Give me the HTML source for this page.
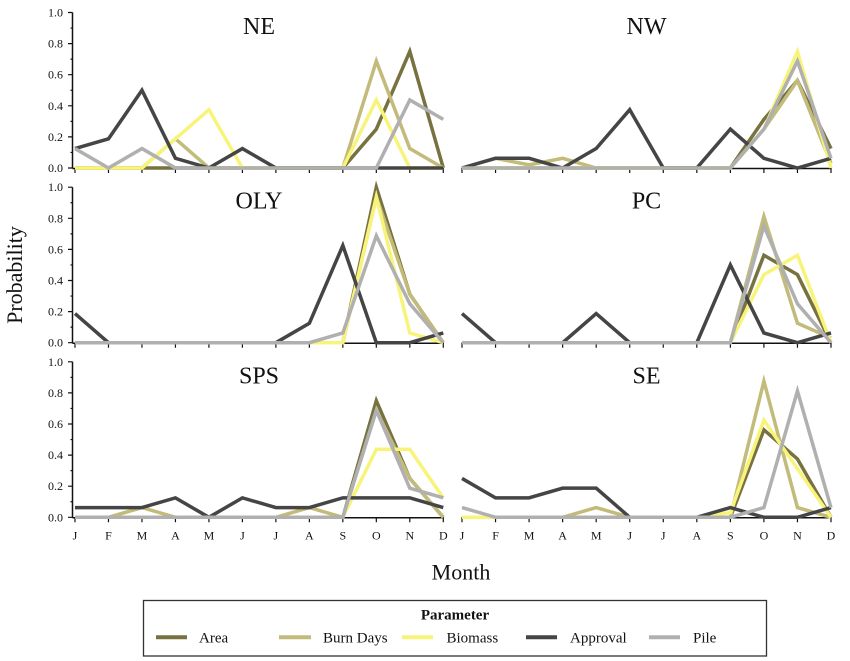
<!DOCTYPE html>
<html>
<head>
<meta charset="utf-8">
<style>
  html,body{margin:0;padding:0;background:#fff;}
  svg{display:block;}
  text{font-family:"Liberation Serif","DejaVu Serif",serif;fill:#111;}
  .tk{font-size:12px;}
  .ttl{font-size:24px;}
  .ax{stroke:#111;stroke-width:1.5;fill:none;}
  .d{fill:none;stroke-width:3.5;vector-effect:non-scaling-stroke;stroke-linejoin:miter;stroke-miterlimit:10;}
  .a{stroke:#77723f;}
  .b{stroke:#c2bb7a;}
  .m{stroke:#f8f47a;}
  .p{stroke:#454545;}
  .l{stroke:#b0b0b0;}
</style>
</head>
<body>
<svg width="850" height="661" viewBox="0 0 850 661" xmlns="http://www.w3.org/2000/svg">
  <rect width="850" height="661" fill="#fff"/>

  <!-- ============ AXES ============ -->
  <!-- Left panels y axes -->
  <g class="ax">
    <line x1="72.5" y1="12.5" x2="72.5" y2="168.5"/>
    <line x1="72.5" y1="187.2" x2="72.5" y2="343.2"/>
    <line x1="72.5" y1="361.8" x2="72.5" y2="517.8"/>
    <!-- x axes -->
    <line x1="72.5" y1="168.5" x2="443.8" y2="168.5"/>
    <line x1="72.5" y1="343.2" x2="443.8" y2="343.2"/>
    <line x1="72.5" y1="517.8" x2="443.8" y2="517.8"/>
    <line x1="461.5" y1="168.5" x2="831.5" y2="168.5"/>
    <line x1="461.5" y1="343.2" x2="831.5" y2="343.2"/>
    <line x1="461.5" y1="517.8" x2="831.5" y2="517.8"/>
  </g>

  <!-- y ticks left panels: major at 0,.2..1 ; minor at .1,.3.. -->
  <g stroke="#111" stroke-width="1.2">
    <!-- row1 zero 168 -->
    <path d="M68 168H72.5M68 136.9H72.5M68 105.8H72.5M68 74.7H72.5M68 43.6H72.5M68 12.5H72.5
             M70.5 152.45H72.5M70.5 121.35H72.5M70.5 90.25H72.5M70.5 59.15H72.5M70.5 28.05H72.5"/>
    <!-- row2 zero 342.7 -->
    <path d="M68 342.7H72.5M68 311.6H72.5M68 280.5H72.5M68 249.4H72.5M68 218.3H72.5M68 187.2H72.5
             M70.5 327.15H72.5M70.5 296.05H72.5M70.5 264.95H72.5M70.5 233.85H72.5M70.5 202.75H72.5"/>
    <!-- row3 zero 517.3 -->
    <path d="M68 517.3H72.5M68 486.2H72.5M68 455.1H72.5M68 424H72.5M68 392.9H72.5M68 361.8H72.5
             M70.5 501.75H72.5M70.5 470.65H72.5M70.5 439.55H72.5M70.5 408.45H72.5M70.5 377.35H72.5"/>
  </g>

  <!-- x ticks -->
  <g stroke="#111" stroke-width="1.2">
    <path d="M75 168v5M108.48 168v5M141.96 168v5M175.44 168v5M208.92 168v5M242.4 168v5M275.88 168v5M309.36 168v5M342.84 168v5M376.32 168v5M409.8 168v5M443.28 168v5"/>
    <path d="M75 342.7v5M108.48 342.7v5M141.96 342.7v5M175.44 342.7v5M208.92 342.7v5M242.4 342.7v5M275.88 342.7v5M309.36 342.7v5M342.84 342.7v5M376.32 342.7v5M409.8 342.7v5M443.28 342.7v5"/>
    <path d="M75 517.3v5M108.48 517.3v5M141.96 517.3v5M175.44 517.3v5M208.92 517.3v5M242.4 517.3v5M275.88 517.3v5M309.36 517.3v5M342.84 517.3v5M376.32 517.3v5M409.8 517.3v5M443.28 517.3v5"/>
    <path d="M462 168v5M495.55 168v5M529.09 168v5M562.64 168v5M596.18 168v5M629.73 168v5M663.27 168v5M696.82 168v5M730.36 168v5M763.91 168v5M797.45 168v5M831 168v5"/>
    <path d="M462 342.7v5M495.55 342.7v5M529.09 342.7v5M562.64 342.7v5M596.18 342.7v5M629.73 342.7v5M663.27 342.7v5M696.82 342.7v5M730.36 342.7v5M763.91 342.7v5M797.45 342.7v5M831 342.7v5"/>
    <path d="M462 517.3v5M495.55 517.3v5M529.09 517.3v5M562.64 517.3v5M596.18 517.3v5M629.73 517.3v5M663.27 517.3v5M696.82 517.3v5M730.36 517.3v5M763.91 517.3v5M797.45 517.3v5M831 517.3v5"/>
  </g>

  <!-- y tick labels -->
  <g class="tk" text-anchor="end">
    <text x="63" y="172">0.0</text><text x="63" y="140.9">0.2</text><text x="63" y="109.8">0.4</text><text x="63" y="78.7">0.6</text><text x="63" y="47.6">0.8</text><text x="63" y="16.5">1.0</text>
    <text x="63" y="346.7">0.0</text><text x="63" y="315.6">0.2</text><text x="63" y="284.5">0.4</text><text x="63" y="253.4">0.6</text><text x="63" y="222.3">0.8</text><text x="63" y="191.2">1.0</text>
    <text x="63" y="521.3">0.0</text><text x="63" y="490.2">0.2</text><text x="63" y="459.1">0.4</text><text x="63" y="428">0.6</text><text x="63" y="396.9">0.8</text><text x="63" y="365.8">1.0</text>
  </g>

  <!-- x tick labels -->
  <g class="tk" text-anchor="middle">
    <text x="75" y="539.5">J</text><text x="108.48" y="539.5">F</text><text x="141.96" y="539.5">M</text><text x="175.44" y="539.5">A</text><text x="208.92" y="539.5">M</text><text x="242.4" y="539.5">J</text><text x="275.88" y="539.5">J</text><text x="309.36" y="539.5">A</text><text x="342.84" y="539.5">S</text><text x="376.32" y="539.5">O</text><text x="409.8" y="539.5">N</text><text x="443.28" y="539.5">D</text>
    <text x="462" y="539.5">J</text><text x="495.55" y="539.5">F</text><text x="529.09" y="539.5">M</text><text x="562.64" y="539.5">A</text><text x="596.18" y="539.5">M</text><text x="629.73" y="539.5">J</text><text x="663.27" y="539.5">J</text><text x="696.82" y="539.5">A</text><text x="730.36" y="539.5">S</text><text x="763.91" y="539.5">O</text><text x="797.45" y="539.5">N</text><text x="831" y="539.5">D</text>
  </g>

  <!-- panel titles -->
  <g class="ttl" text-anchor="middle">
    <text x="259" y="34">NE</text>
    <text x="646.5" y="34">NW</text>
    <text x="259" y="208.7">OLY</text>
    <text x="646.5" y="208.7">PC</text>
    <text x="259" y="383.3">SPS</text>
    <text x="646.5" y="383.3">SE</text>
  </g>

  <!-- ============ DATA ============ -->
  <!-- NE -->
  <g transform="translate(75,168) scale(33.48,-155.5)">
    <polyline class="d a" points="0,0 1,0 2,0 3,0 4,0 5,0 6,0 7,0 8,0 9,0.25 10,0.75 11,0"/>
    <polyline class="d b" points="0,0 1,0 2,0 3,0.1875 4,0 5,0 6,0 7,0 8,0 9,0.6875 10,0.125 11,0"/>
    <polyline class="d m" points="0,0 1,0 2,0 3,0.1875 4,0.375 5,0 6,0 7,0 8,0 9,0.4375 10,0 11,0"/>
    <polyline class="d p" points="0,0.125 1,0.1875 2,0.5 3,0.0625 4,0 5,0.125 6,0 7,0 8,0 9,0 10,0 11,0"/>
    <polyline class="d l" points="0,0.125 1,0 2,0.125 3,0 4,0 5,0 6,0 7,0 8,0 9,0 10,0.4375 11,0.3125"/>
  </g>
  <!-- NW -->
  <g transform="translate(462,168) scale(33.545,-155.5)">
    <polyline class="d a" points="0,0 1,0 2,0 3,0 4,0 5,0 6,0 7,0 8,0 9,0.3125 10,0.5625 11,0.125"/>
    <polyline class="d b" points="0,0 1,0.0625 2,0.02 3,0.0625 4,0 5,0 6,0 7,0 8,0 9,0.25 10,0.5625 11,0.03"/>
    <polyline class="d m" points="0,0 1,0 2,0 3,0 4,0 5,0 6,0 7,0 8,0 9,0.25 10,0.75 11,0"/>
    <polyline class="d p" points="0,0 1,0.0625 2,0.0625 3,0 4,0.125 5,0.375 6,0 7,0 8,0.25 9,0.0625 10,0 11,0.0625"/>
    <polyline class="d l" points="0,0 1,0 2,0 3,0 4,0 5,0 6,0 7,0 8,0 9,0.25 10,0.6875 11,0.0625"/>
  </g>
  <!-- OLY -->
  <g transform="translate(75,342.7) scale(33.48,-155.5)">
    <polyline class="d a" points="0,0 1,0 2,0 3,0 4,0 5,0 6,0 7,0 8,0 9,1 10,0.3125 11,0"/>
    <polyline class="d b" points="0,0 1,0 2,0 3,0 4,0 5,0 6,0 7,0 8,0 9,0.9375 10,0.3125 11,0"/>
    <polyline class="d m" points="0,0 1,0 2,0 3,0 4,0 5,0 6,0 7,0 8,0 9,0.9375 10,0.0625 11,0"/>
    <polyline class="d p" points="0,0.1875 1,0 2,0 3,0 4,0 5,0 6,0 7,0.125 8,0.625 9,0 10,0 11,0.0625"/>
    <polyline class="d l" points="0,0 1,0 2,0 3,0 4,0 5,0 6,0 7,0 8,0.0625 9,0.6875 10,0.25 11,0"/>
  </g>
  <!-- PC -->
  <g transform="translate(462,342.7) scale(33.545,-155.5)">
    <polyline class="d a" points="0,0 1,0 2,0 3,0 4,0 5,0 6,0 7,0 8,0 9,0.5625 10,0.4375 11,0"/>
    <polyline class="d b" points="0,0 1,0 2,0 3,0 4,0 5,0 6,0 7,0 8,0 9,0.8125 10,0.125 11,0.03"/>
    <polyline class="d m" points="0,0 1,0 2,0 3,0 4,0 5,0 6,0 7,0 8,0 9,0.4375 10,0.5625 11,0"/>
    <polyline class="d p" points="0,0.1875 1,0 2,0 3,0 4,0.1875 5,0 6,0 7,0 8,0.5 9,0.0625 10,0 11,0.0625"/>
    <polyline class="d l" points="0,0 1,0 2,0 3,0 4,0 5,0 6,0 7,0 8,0 9,0.75 10,0.25 11,0"/>
  </g>
  <!-- SPS -->
  <g transform="translate(75,517.3) scale(33.48,-155.5)">
    <polyline class="d a" points="0,0 1,0 2,0 3,0 4,0 5,0 6,0 7,0 8,0 9,0.75 10,0.25 11,0"/>
    <polyline class="d b" points="0,0 1,0 2,0.0625 3,0 4,0 5,0 6,0 7,0.0625 8,0 9,0.6875 10,0.25 11,0"/>
    <polyline class="d m" points="0,0 1,0 2,0 3,0 4,0 5,0 6,0 7,0 8,0 9,0.4375 10,0.4375 11,0.125"/>
    <polyline class="d p" points="0,0.0625 1,0.0625 2,0.0625 3,0.125 4,0 5,0.125 6,0.0625 7,0.0625 8,0.125 9,0.125 10,0.125 11,0.0625"/>
    <polyline class="d l" points="0,0 1,0 2,0 3,0 4,0 5,0 6,0 7,0 8,0 9,0.6875 10,0.1875 11,0.125"/>
  </g>
  <!-- SE -->
  <g transform="translate(462,517.3) scale(33.545,-155.5)">
    <polyline class="d a" points="0,0 1,0 2,0 3,0 4,0 5,0 6,0 7,0 8,0 9,0.5625 10,0.375 11,0"/>
    <polyline class="d b" points="0,0 1,0 2,0 3,0 4,0.0625 5,0 6,0 7,0 8,0 9,0.875 10,0.0625 11,0"/>
    <polyline class="d m" points="0,0 1,0 2,0 3,0 4,0 5,0 6,0 7,0 8,0.03 9,0.625 10,0.3125 11,0"/>
    <polyline class="d p" points="0,0.25 1,0.125 2,0.125 3,0.1875 4,0.1875 5,0 6,0 7,0 8,0.0625 9,0 10,0 11,0.0625"/>
    <polyline class="d l" points="0,0.0625 1,0 2,0 3,0 4,0 5,0 6,0 7,0 8,0 9,0.0625 10,0.8125 11,0.0625"/>
  </g>

  <!-- axis titles -->
  <text x="461" y="579.5" font-size="22" text-anchor="middle">Month</text>
  <text transform="translate(22,275) rotate(-90)" font-size="22" text-anchor="middle">Probability</text>

  <!-- ============ LEGEND ============ -->
  <rect x="143.5" y="600.5" width="623" height="55.5" fill="none" stroke="#333" stroke-width="1.3"/>
  <text x="455" y="619.5" font-size="15" font-weight="bold" text-anchor="middle">Parameter</text>
  <g stroke-width="4">
    <line x1="156" y1="637.3" x2="187" y2="637.3" stroke="#77723f"/>
    <line x1="279" y1="637.3" x2="311" y2="637.3" stroke="#c2bb7a"/>
    <line x1="402" y1="637.3" x2="433" y2="637.3" stroke="#f8f47a"/>
    <line x1="526" y1="637.3" x2="557" y2="637.3" stroke="#454545"/>
    <line x1="649" y1="637.3" x2="680" y2="637.3" stroke="#b0b0b0"/>
  </g>
  <g font-size="15">
    <text x="199" y="642.5">Area</text>
    <text x="323" y="642.5">Burn Days</text>
    <text x="446.5" y="642.5">Biomass</text>
    <text x="570" y="642.5">Approval</text>
    <text x="693" y="642.5">Pile</text>
  </g>
</svg>
</body>
</html>
